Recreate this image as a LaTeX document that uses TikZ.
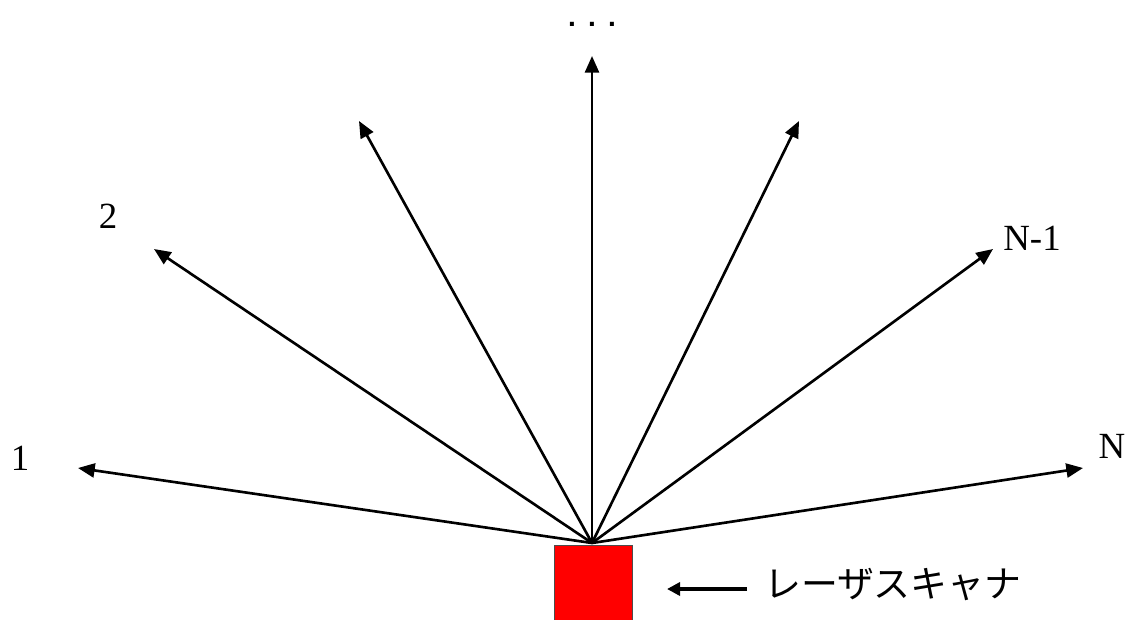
\documentclass[tikz,border=0pt]{standalone}
\usepackage{fontspec}
\setmainfont{Liberation Serif}
\newfontfamily\cjk{Noto Sans CJK JP}
\newfontfamily\dotfont{Liberation Sans}
\usetikzlibrary{arrows.meta}
\begin{document}
\begin{tikzpicture}[x=0.02cm,y=-0.02cm,
  beam/.style={line width=1.5pt,-{Triangle[length=9.5pt,width=8pt]}},
  lbl/.style={inner sep=0pt,font=\fontsize{21}{25}\selectfont},
  pointer/.style={line width=2.2pt,-{Triangle[length=7.5pt,width=7.5pt]}}]
\useasboundingbox[fill=white] (0,0) rectangle (1131,619);
\coordinate (o) at (592,543);
\coordinate (t1) at (78,468);
\coordinate (t2) at (154,249);
\coordinate (t3) at (359,121);
\coordinate (t4) at (592,56);
\coordinate (t5) at (799,121);
\coordinate (t6) at (993,249);
\coordinate (t7) at (1083,468);
\foreach \i in {1,...,7} \draw[beam] (o) -- (t\i);
\node[draw=black!70,line width=0.6pt,fill=red,minimum width=78*0.02cm,minimum height=76*0.02cm,inner sep=0pt,anchor=north west] (scanner) at (554,545) {};
\node[lbl] (l1) at (20,458) {1};
\node[lbl] (l2) at (108,216) {2};
\node[lbl] (l6) at (1032,238) {N-1};
\node[lbl] (l7) at (1112,446) {N};
\node[inner sep=0pt,anchor=base,font=\dotfont\bfseries\fontsize{16}{16}\selectfont] (dots) at (592,26) {.\hspace{6.9pt}.\hspace{6.9pt}.};
\node[lbl,font=\cjk\fontsize{21}{25}\selectfont,anchor=west] (name) at (764,585) {レーザスキャナ};
\coordinate (ps) at (747,589);
\coordinate (pe) at (667,589);
\draw[pointer] (ps) -- (pe);
\end{tikzpicture}
\end{document}
